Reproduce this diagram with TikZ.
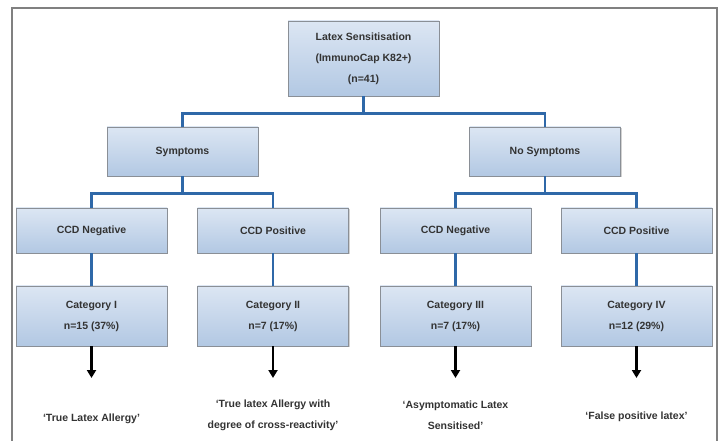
\documentclass[tikz,border=0pt]{standalone}
\usepackage{fontspec}
\setmainfont{Liberation Sans}
\usepackage{tikz}
\usetikzlibrary{shadows}
\usetikzlibrary{arrows.meta}

\definecolor{boxtop}{HTML}{DCE6F3}
\definecolor{boxbottom}{HTML}{B2C8E3}
\definecolor{boxline}{HTML}{8A8F96}
\definecolor{linkblue}{HTML}{2F68A8}

\begin{document}
\begin{tikzpicture}[x=1pt, y=-1pt,
            font=\fontsize{10.5}{21}\selectfont\bfseries,
            box/.style={rectangle,
            draw=boxline,
            line width=0.8pt,
            top color=boxtop,
            bottom color=boxbottom,
            minimum width=151pt,
            text=black!80,
            align=center,
            drop shadow={opacity=0.35, shadow xshift=1.2pt, shadow yshift=-1.2pt}},
            link/.style={draw=linkblue, line width=2.6pt},
            result/.style={draw=black, line width=2.6pt, -{Triangle[length=8pt, width=9pt]}},
            outcome/.style={align=center, text=black!80}]
            \useasboundingbox[fill=white] (0,0) rectangle (724,441);
            \draw[line width=1.6pt, draw=black!50] (12,441) -- (12,8) -- (717,8) -- (717,441);

            \node[box, minimum height=75pt] (latex) at (363.5,58.5)
            {Latex Sensitisation\\(ImmunoCap K82+)\\(n=41)};

            \node[box, minimum height=49pt] (sym) at (182.5,151.5) {Symptoms};
            \node[box, minimum height=49pt] (nosym) at (545,151.5) {No Symptoms};

            \node[box, minimum height=45pt] (cneg1) at (91.5,230.5) {CCD Negative};
            \node[box, minimum height=45pt] (cpos1) at (273,230.5) {CCD Positive};
            \node[box, minimum height=45pt] (cneg2) at (455.5,230.5) {CCD Negative};
            \node[box, minimum height=45pt] (cpos2) at (636.5,230.5) {CCD Positive};

            \node[box, minimum height=60pt] (cat1) at (91.5,316) {Category I\\n=15 (37\%)};
            \node[box, minimum height=60pt] (cat2) at (273,316) {Category II\\n=7 (17\%)};
            \node[box, minimum height=60pt] (cat3) at (455.5,316) {Category III\\n=7 (17\%)};
            \node[box, minimum height=60pt] (cat4) at (636.5,316) {Category IV\\n=12 (29\%)};

            \coordinate (tip1) at (91.5,378);
            \coordinate (tip2) at (273,378);
            \coordinate (tip3) at (455.5,378);
            \coordinate (tip4) at (636.5,378);

            \node[outcome] (out1) at (91.5,419) {‘True Latex Allergy’};
            \node[outcome] (out2) at (273,415.5) {‘True latex Allergy with\\degree of cross-reactivity’};
            \node[outcome] (out3) at (455.5,415.5) {‘Asymptomatic Latex\\Sensitised’};
            \node[outcome] (out4) at (636.5,417) {‘False positive latex’};

            \path[link] (latex.south) -- ++(0,17) -| (sym.north);
            \path[link] (latex.south) -- ++(0,17) -| (nosym.north);
            \path[link] (sym.south) -- ++(0,17) -| (cneg1.north);
            \path[link] (sym.south) -- ++(0,17) -| (cpos1.north);
            \path[link] (nosym.south) -- ++(0,17) -| (cneg2.north);
            \path[link] (nosym.south) -- ++(0,17) -| (cpos2.north);
            \path[link] (cneg1) -- (cat1);
            \path[link] (cpos1) -- (cat2);
            \path[link] (cneg2) -- (cat3);
            \path[link] (cpos2) -- (cat4);

            \draw[result] (cat1.south) -- (tip1);
            \draw[result] (cat2.south) -- (tip2);
            \draw[result] (cat3.south) -- (tip3);
            \draw[result] (cat4.south) -- (tip4);
        \end{tikzpicture}
\end{document}
